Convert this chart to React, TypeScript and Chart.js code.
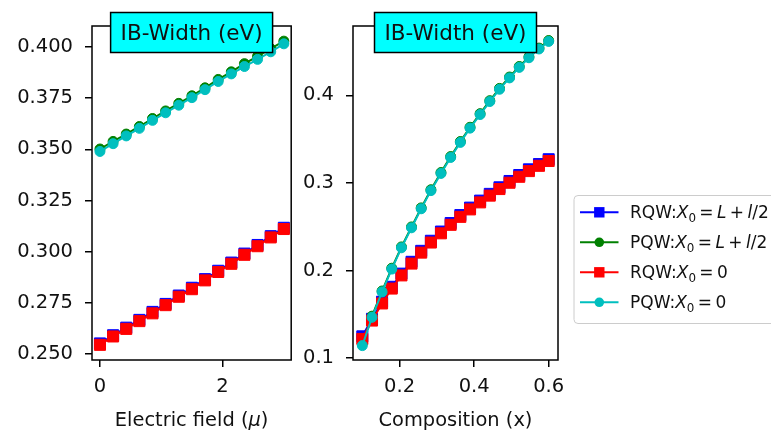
import React, { useEffect, useRef } from "react";
import { Chart, registerables } from "chart.js";
Chart.register(...registerables);

// ---------- data ----------
const fieldX = [0, 0.214, 0.429, 0.643, 0.857, 1.071, 1.286, 1.5, 1.714, 1.929, 2.143, 2.357, 2.571, 2.786, 3.0];
const fieldRQWL = [0.2552, 0.2592, 0.2629, 0.2667, 0.2706, 0.2745, 0.2786, 0.2824, 0.2866, 0.2907, 0.2947, 0.2991, 0.3033, 0.3076, 0.3117];
const fieldPQWL = [0.3502, 0.3539, 0.3575, 0.3612, 0.3651, 0.3688, 0.3725, 0.3762, 0.3801, 0.3842, 0.3879, 0.3919, 0.3955, 0.3992, 0.4029];
const fieldRQW0 = [0.2545, 0.2586, 0.2623, 0.2661, 0.2699, 0.2739, 0.278, 0.2817, 0.286, 0.2901, 0.2941, 0.2985, 0.3027, 0.307, 0.3111];
const fieldPQW0 = [0.349, 0.3528, 0.3566, 0.3603, 0.3642, 0.3679, 0.3716, 0.3753, 0.3792, 0.3832, 0.3869, 0.3905, 0.394, 0.3977, 0.4016];

const compX = [0.1, 0.126, 0.153, 0.179, 0.205, 0.232, 0.258, 0.284, 0.311, 0.337, 0.363, 0.389, 0.416, 0.442, 0.468, 0.495, 0.521, 0.547, 0.574, 0.6];
const compRQWL = [0.125, 0.145, 0.1645, 0.1815, 0.1965, 0.21, 0.2225, 0.234, 0.2445, 0.2542, 0.2633, 0.2718, 0.2798, 0.2875, 0.295, 0.3022, 0.309, 0.3155, 0.3215, 0.327];
const compPQWL = [0.117, 0.148, 0.1767, 0.2027, 0.227, 0.2498, 0.2715, 0.2922, 0.3118, 0.33, 0.3472, 0.3635, 0.379, 0.3938, 0.4078, 0.4208, 0.4328, 0.4438, 0.4538, 0.4624];
const compRQW0 = [0.122, 0.143, 0.1625, 0.1795, 0.1945, 0.208, 0.2205, 0.232, 0.2425, 0.2522, 0.2613, 0.2698, 0.2778, 0.2855, 0.293, 0.3002, 0.307, 0.3135, 0.3195, 0.325];
const compPQW0 = [0.1144, 0.1467, 0.1757, 0.2017, 0.226, 0.2488, 0.2705, 0.2912, 0.3108, 0.329, 0.3462, 0.3625, 0.378, 0.3928, 0.4068, 0.4198, 0.4318, 0.4428, 0.4528, 0.4614];

const fieldXTicks = [0, 2];
const fieldYTicks = [0.25, 0.275, 0.3, 0.325, 0.35, 0.375, 0.4];
const compXTicks = [0.2, 0.4, 0.6];
const compYTicks = [0.1, 0.2, 0.3, 0.4];

const titleText = "IB-Width (eV)";
type Part = { t: string; s?: "i" | "sub"; gl?: number; gr?: number };
const fieldXLabel: Part[] = [{ t: "Electric field (" }, { t: "\u03bc", s: "i" }, { t: ")" }];
const compXLabel: Part[] = [{ t: "Composition (x)" }];
const legendLabels: Part[][] = [
  [{ t: "RQW:" }, { t: "X", s: "i" }, { t: "0", s: "sub" }, { t: "=", gl: 0.2, gr: 0.2 }, { t: "L", s: "i" }, { t: "+", gl: 0.2, gr: 0.2 }, { t: "l", s: "i" }, { t: "/2" }],
  [{ t: "PQW:" }, { t: "X", s: "i" }, { t: "0", s: "sub" }, { t: "=", gl: 0.2, gr: 0.2 }, { t: "L", s: "i" }, { t: "+", gl: 0.2, gr: 0.2 }, { t: "l", s: "i" }, { t: "/2" }],
  [{ t: "RQW:" }, { t: "X", s: "i" }, { t: "0", s: "sub" }, { t: "=", gl: 0.2, gr: 0.2 }, { t: "0" }],
  [{ t: "PQW:" }, { t: "X", s: "i" }, { t: "0", s: "sub" }, { t: "=", gl: 0.2, gr: 0.2 }, { t: "0" }],
];

// ---------- styles ----------
const FONT = '"DejaVu Sans"';
const styles = [
  { color: "#0000ff", shape: "rect", r: 7.8 },
  { color: "#008000", shape: "circle", r: 5 },
  { color: "#ff0000", shape: "rect", r: 7.8 },
  { color: "#00bfbf", shape: "circle", r: 5 },
];

function fontFor(p: Part, size: number) {
  if (p.s === "i") return `italic ${size}px ${FONT}`;
  if (p.s === "sub") return `${size * 0.7}px ${FONT}`;
  return `${size}px ${FONT}`;
}

function drawRich(ctx: CanvasRenderingContext2D, parts: Part[], x: number, y: number, size: number, align: "left" | "center") {
  const widths = parts.map((p) => {
    ctx.font = fontFor(p, size);
    return ctx.measureText(p.t).width + ((p.gl || 0) + (p.gr || 0)) * size;
  });
  const total = widths.reduce((a, b) => a + b, 0);
  let cx = align === "center" ? x - total / 2 : x;
  ctx.textAlign = "left";
  ctx.textBaseline = "alphabetic";
  parts.forEach((p, i) => {
    ctx.font = fontFor(p, size);
    ctx.fillText(p.t, cx + (p.gl || 0) * size, p.s === "sub" ? y + size * 0.22 : y);
    cx += widths[i];
  });
}

function makeDatasets(xs: number[], series: number[][]) {
  const ds = series.map((vals, i) => ({
    label: String(i),
    data: xs.map((x, j) => ({ x, y: vals[j] })),
    borderColor: styles[i].color,
    backgroundColor: styles[i].color,
    pointBackgroundColor: styles[i].color,
    pointBorderColor: styles[i].color,
    pointBorderWidth: 1,
    pointStyle: styles[i].shape,
    pointRadius: styles[i].r,
    borderWidth: 2,
    tension: 0,
    showLine: true,
    clip: false as any,
  }));
  // first dataset in array is drawn on top in Chart.js -> reverse
  return ds.reverse();
}

function decorPlugin(xLabel: Part[]) {
  return {
    id: "decor",
    afterDraw(chart: any) {
      const { ctx, chartArea: a } = chart;
      ctx.save();
      ctx.strokeStyle = "#000";
      ctx.lineWidth = 1.5;
      ctx.strokeRect(a.left, a.top, a.right - a.left, a.bottom - a.top);
      // title box
      const ts = 21.5;
      ctx.font = `${ts}px ${FONT}`;
      const tw = ctx.measureText(titleText).width;
      const cx = (a.left + a.right) / 2;
      const padX = 10;
      ctx.fillStyle = "#00ffff";
      ctx.fillRect(cx - tw / 2 - padX, 12.5, tw + 2 * padX, 40);
      ctx.strokeRect(cx - tw / 2 - padX, 12.5, tw + 2 * padX, 40);
      ctx.fillStyle = "#111";
      ctx.textAlign = "center";
      ctx.textBaseline = "alphabetic";
      ctx.fillText(titleText, cx, 39.5);
      // x label
      drawRich(ctx, xLabel, cx, 426, 19.4, "center");
      ctx.restore();
    },
  };
}

const legendPlugin = {
  id: "legendBox",
  afterDraw(chart: any) {
    const ctx: CanvasRenderingContext2D = chart.ctx;
    ctx.save();
    const left = 274, top = 195.5, bottom = 323.5, right = 490;
    const rad = 4;
    ctx.beginPath();
    ctx.moveTo(left + rad, top);
    ctx.lineTo(right, top);
    ctx.lineTo(right, bottom);
    ctx.lineTo(left + rad, bottom);
    ctx.arcTo(left, bottom, left, bottom - rad, rad);
    ctx.lineTo(left, top + rad);
    ctx.arcTo(left, top, left + rad, top, rad);
    ctx.closePath();
    ctx.fillStyle = "rgba(255,255,255,0.8)";
    ctx.fill();
    ctx.strokeStyle = "#cccccc";
    ctx.lineWidth = 1;
    ctx.stroke();
    const rows = [212.3, 242.3, 272.3, 302.3];
    legendLabels.forEach((parts, i) => {
      const y = rows[i];
      const st = styles[i];
      ctx.strokeStyle = st.color;
      ctx.lineWidth = 2;
      ctx.beginPath();
      ctx.moveTo(280, y);
      ctx.lineTo(318.5, y);
      ctx.stroke();
      ctx.fillStyle = st.color;
      if (st.shape === "rect") {
        ctx.fillRect(299.3 - 5.2, y - 5.2, 10.4, 10.4);
      } else {
        ctx.beginPath();
        ctx.arc(299.3, y, 4.8, 0, Math.PI * 2);
        ctx.fill();
      }
      ctx.fillStyle = "#111";
      drawRich(ctx, parts, 330, y + 6, 17, "left");
    });
    ctx.restore();
  },
};

const tickFont = { family: FONT, size: 19.5 };
const gridOpts = {
  display: true,
  drawOnChartArea: false,
  drawTicks: true,
  tickLength: 7,
  tickWidth: 1.5,
  tickColor: "#000",
  color: "#000",
  lineWidth: 1.5,
};

function axis(min: number, max: number, ticks: number[], digits: number, isX: boolean, size: number) {
  return {
    type: "linear",
    min,
    max,
    afterBuildTicks: (s: any) => {
      s.ticks = ticks.map((v) => ({ value: v }));
    },
    afterFit: (s: any) => {
      if (isX) s.height = size;
      else s.width = size;
    },
    ticks: {
      font: tickFont,
      color: "#111",
      padding: isX ? 8 : 12,
      maxRotation: 0,
      autoSkip: false,
      callback: (v: any) => Number(v).toFixed(digits),
    },
    grid: gridOpts,
    border: { display: false },
  };
}

export default function App() {
  const c1 = useRef<HTMLCanvasElement>(null);
  const c2 = useRef<HTMLCanvasElement>(null);
  useEffect(() => {
    const ch1 = new Chart(c1.current!, {
      type: "line",
      data: { datasets: makeDatasets(fieldX, [fieldRQWL, fieldPQWL, fieldRQW0, fieldPQW0]) as any },
      options: {
        responsive: false,
        animation: false,
        devicePixelRatio: 1,
        layout: { padding: { top: 26, right: 3, left: 0, bottom: 0 } },
        plugins: { legend: { display: false }, tooltip: { enabled: false }, title: { display: false } },
        scales: {
          x: axis(-0.13, 3.12, fieldXTicks, 0, true, 70) as any,
          y: axis(0.2471, 0.4103, fieldYTicks, 3, false, 92) as any,
        },
      },
      plugins: [decorPlugin(fieldXLabel)],
    });
    const ch2 = new Chart(c2.current!, {
      type: "line",
      data: { datasets: makeDatasets(compX, [compRQWL, compPQWL, compRQW0, compPQW0]) as any },
      options: {
        responsive: false,
        animation: false,
        devicePixelRatio: 1,
        layout: { padding: { top: 26, right: 213, left: 0, bottom: 0 } },
        plugins: { legend: { display: false }, tooltip: { enabled: false }, title: { display: false } },
        scales: {
          x: axis(0.075, 0.625, compXTicks, 1, true, 70) as any,
          y: axis(0.098, 0.479, compYTicks, 1, false, 53) as any,
        },
      },
      plugins: [decorPlugin(compXLabel), legendPlugin],
    });
    return () => {
      ch1.destroy();
      ch2.destroy();
    };
  }, []);
  return (
    <div style={{ position: "fixed", left: 0, top: 0, width: 771, height: 430, background: "#fff", overflow: "hidden" }}>
      <canvas ref={c1} width={300} height={430} style={{ position: "absolute", left: 0, top: 0, width: 300, height: 430 }} />
      <canvas ref={c2} width={471} height={430} style={{ position: "absolute", left: 300, top: 0, width: 471, height: 430 }} />
    </div>
  );
}
